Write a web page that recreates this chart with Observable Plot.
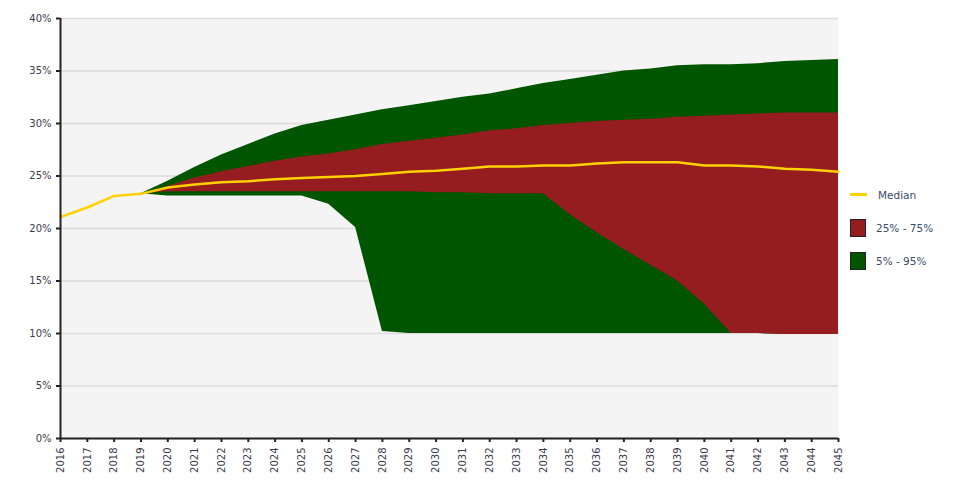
<!DOCTYPE html>
<html>
<head>
<meta charset="utf-8">
<script src="https://cdn.jsdelivr.net/npm/d3@7"></script>
<script src="https://cdn.jsdelivr.net/npm/@observablehq/plot@0.6"></script>
<style>
  body { margin: 0; background: #fff; font-family: "DejaVu Sans", sans-serif; }
  #wrap { position: relative; width: 953px; height: 482px; }
  #legend { position: absolute; left: 850px; top: 178px; font-size: 10.5px; color: #3a4a6a; }
  .item { display: flex; align-items: center; height: 33px; }
  .line { width: 17px; height: 3px; background: #ffd200; margin-right: 11px; }
  .sw { width: 16px; height: 18px; margin-right: 10px; box-sizing: border-box; border: 1px solid #222; }
</style>
</head>
<body>
<div id="wrap">
  <div id="chart"></div>
  <div id="legend"></div>
</div>
<script>
const years = d3.range(2016, 2046);
const median = [21.1, 22.0, 23.1, 23.3, 23.9, 24.2, 24.4, 24.5, 24.7, 24.8, 24.9, 25.0, 25.2, 25.4, 25.5, 25.7, 25.9, 25.9, 26.0, 26.0, 26.2, 26.3, 26.3, 26.3, 26.0, 26.0, 25.9, 25.7, 25.6, 25.4];

const bandYears = d3.range(2019, 2046);
const p5  = [23.3, 23.1, 23.1, 23.1, 23.1, 23.1, 23.1, 22.3, 20.1, 10.2, 10.0, 10.0, 10.0, 10.0, 10.0, 10.0, 10.0, 10.0, 10.0, 10.0, 10.0, 10.0, 10.0, 10.0, 9.9, 9.9, 9.9];
const p25 = [23.3, 23.5, 23.5, 23.5, 23.5, 23.5, 23.5, 23.5, 23.5, 23.5, 23.5, 23.4, 23.4, 23.3, 23.3, 23.3, 21.3, 19.6, 18.0, 16.5, 15.0, 12.8, 10.0, 10.0, 9.9, 9.9, 9.9];
const p75 = [23.3, 24.0, 24.8, 25.4, 25.9, 26.4, 26.8, 27.1, 27.5, 28.0, 28.3, 28.6, 28.9, 29.3, 29.5, 29.8, 30.0, 30.2, 30.3, 30.4, 30.6, 30.7, 30.8, 30.9, 31.0, 31.0, 31.0];
const p95 = [23.3, 24.5, 25.8, 27.0, 28.0, 29.0, 29.8, 30.3, 30.8, 31.3, 31.7, 32.1, 32.5, 32.8, 33.3, 33.8, 34.2, 34.6, 35.0, 35.2, 35.5, 35.6, 35.6, 35.7, 35.9, 36.0, 36.1];

const yTicks = [0, 5, 10, 15, 20, 25, 30, 35, 40];
const seriesNames = ["Median", "25% - 75%", "5% - 95%"];
const colors = { median: "#ffd200", iqr: "#951c1f", outer: "#005500" };

const medianData = years.map((x, i) => ({ x, y: median[i] / 100 }));
const bandData = bandYears.map((x, i) => ({
  x, p5: p5[i] / 100, p25: p25[i] / 100, p75: p75[i] / 100, p95: p95[i] / 100
}));

const chart = Plot.plot({
  width: 850,
  height: 482,
  marginLeft: 60,
  marginRight: 12,
  marginTop: 18,
  marginBottom: 44,
  style: { fontFamily: "DejaVu Sans, sans-serif", fontSize: "10px", color: "#3a3a4a", background: "transparent" },
  x: { domain: [2016, 2045], ticks: years, tickFormat: "d", tickRotate: -90, tickSize: 4, label: null },
  y: { domain: [0, 0.4], ticks: yTicks.map(v => v / 100), tickFormat: d3.format(".0%"), tickSize: 4, label: null },
  marks: [
    Plot.frame({ fill: "#f4f4f4", stroke: null }),
    Plot.gridY(yTicks.map(v => v / 100), { stroke: "#dcdcdc", strokeOpacity: 1, strokeWidth: 1.5 }),
    Plot.areaY(bandData, { x: "x", y1: "p5", y2: "p95", fill: colors.outer }),
    Plot.areaY(bandData, { x: "x", y1: "p25", y2: "p75", fill: colors.iqr }),
    Plot.lineY(medianData, { x: "x", y: "y", stroke: colors.median, strokeWidth: 2.5 }),
    Plot.axisX({ ticks: years, tickFormat: "d", tickRotate: -90, tickSize: 4, stroke: "#222", strokeWidth: 2, label: null }),
    Plot.axisY({ ticks: yTicks.map(v => v / 100), tickFormat: d3.format(".0%"), tickSize: 4, stroke: "#222", strokeWidth: 2, label: null }),
    Plot.ruleX([2016], { stroke: "#222", strokeWidth: 2 }),
    Plot.ruleY([0], { stroke: "#222", strokeWidth: 2 })
  ]
});
document.getElementById("chart").appendChild(chart);

const legend = document.getElementById("legend");
const swatchColors = [null, colors.iqr, colors.outer];
seriesNames.forEach((name, i) => {
  const item = document.createElement("div");
  item.className = "item";
  const mark = document.createElement("div");
  if (i === 0) { mark.className = "line"; }
  else { mark.className = "sw"; mark.style.background = swatchColors[i]; }
  const label = document.createElement("span");
  label.textContent = name;
  item.appendChild(mark);
  item.appendChild(label);
  legend.appendChild(item);
});
</script>
</body>
</html>
